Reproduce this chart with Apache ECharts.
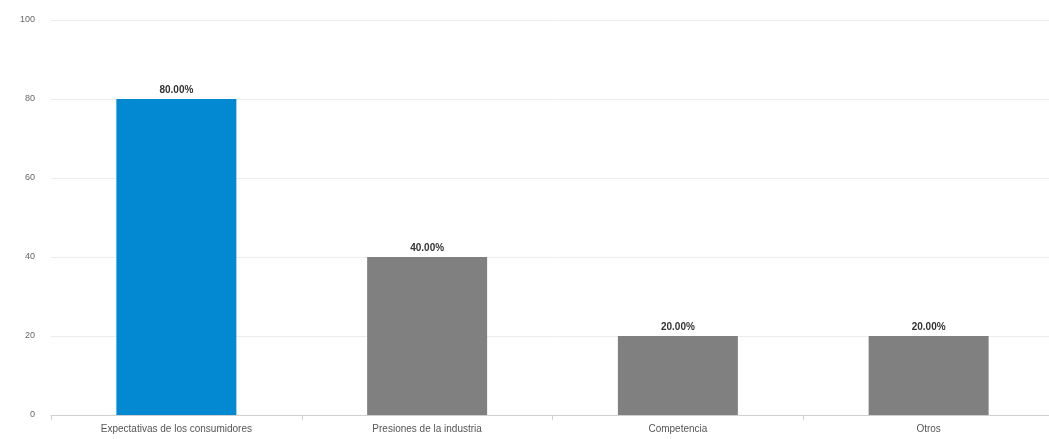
<!DOCTYPE html>
<html>
<head>
<meta charset="utf-8">
<script src="https://cdn.jsdelivr.net/npm/echarts@6/dist/echarts.min.js"></script>
<style>html,body{margin:0;padding:0;background:#fff;overflow:hidden}#c{width:1060px;height:439px}</style>
</head>
<body>
<div id="c"></div>
<script>
const categories = ['Expectativas de los consumidores', 'Presiones de la industria', 'Competencia', 'Otros'];
const values = [80, 40, 20, 20];
const barColors = ['#0289d2', '#808080', '#808080', '#808080'];
const yTicks = [0, 20, 40, 60, 80, 100];

const chart = echarts.init(document.getElementById('c'));
chart.setOption({
  animation: false,
  grid: { left: 51, top: 20, width: 1003, bottom: 24, containLabel: false },
  xAxis: {
    type: 'category',
    data: categories,
    axisLine: { lineStyle: { color: '#d0d0d0' } },
    axisTick: { show: true, length: 5, lineStyle: { color: '#d0d0d0' } },
    axisLabel: { color: '#555', fontSize: 10, fontFamily: 'Liberation Sans, Arial', margin: 9 }
  },
  yAxis: {
    type: 'value',
    min: yTicks[0], max: yTicks[yTicks.length - 1], interval: 20,
    axisLine: { show: false },
    axisTick: { show: false },
    splitLine: { lineStyle: { color: '#ececec' } },
    axisLabel: { color: '#666', fontSize: 9, fontFamily: 'Liberation Sans, Arial', margin: 16 }
  },
  series: [{
    type: 'bar',
    barWidth: 120,
    data: values.map((v, i) => ({ value: v, itemStyle: { color: barColors[i] } })),
    label: {
      show: true, position: 'top', distance: 4,
      color: '#333', fontWeight: 'bold', fontSize: 10, fontFamily: 'Liberation Sans, Arial',
      formatter: p => p.value.toFixed(2) + '%'
    }
  }]
});
</script>
</body>
</html>
